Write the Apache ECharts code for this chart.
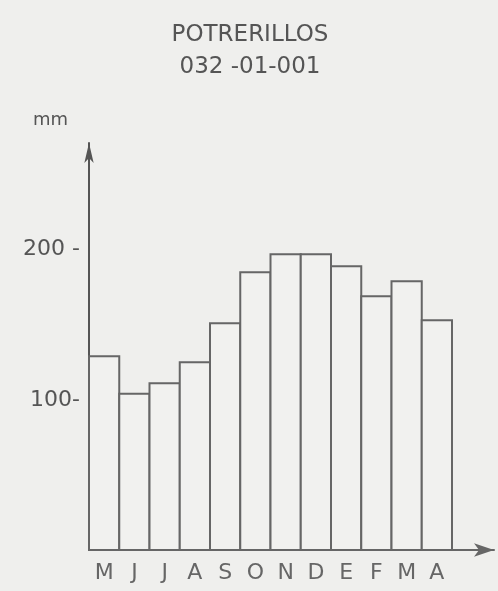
<!DOCTYPE html>
<html>
<head>
<meta charset="utf-8">
<script src="https://cdn.jsdelivr.net/npm/echarts@6/dist/echarts.min.js"></script>
<style>
  html, body { margin: 0; padding: 0; background: #efefed; }
  #chart { width: 498px; height: 591px; }
</style>
</head>
<body>
<div id="chart"></div>
<script>
// meses (mayo a abril) y precipitacion media mensual, mm
var months = ['M', 'J', 'J', 'A', 'S', 'O', 'N', 'D', 'E', 'F', 'M', 'A'];
var rain = [129, 104, 111, 125, 151, 185, 197, 197, 189, 169, 179, 153];
var yTickLabels = { 100: '100-', 200: '200 -' };

var chart = echarts.init(document.getElementById('chart'));
var ink = '#555555';
var font = 'DejaVu Sans';

// barras contiguas: cada rectangulo ocupa toda la categoria, bordes compartidos
function renderBar(params, api) {
    var i = api.value(0);
    var top = api.coord([i, api.value(1)]);
    var base = api.coord([i, 0]);
    var w = api.size([1, 0])[0];
    return {
        type: 'rect',
        shape: { x: top[0] - w / 2, y: top[1], width: w, height: base[1] - top[1] },
        style: { fill: '#f1f1ef', stroke: '#666666', lineWidth: 2 }
    };
}

var option = {
    backgroundColor: '#efefed',
    animation: false,
    title: {
        text: 'POTRERILLOS\n032 -01-001',
        left: 245,
        textAlign: 'center',
        top: 14,
        textStyle: {
            color: ink,
            fontFamily: font,
            fontWeight: 'normal',
            fontSize: 23,
            lineHeight: 32
        }
    },
    grid: [
        { left: 89, right: 46, top: 143, bottom: 41 },
        { left: 89, right: 4, top: 143, bottom: 41 }
    ],
    xAxis: [
        {
            type: 'category',
            gridIndex: 0,
            data: months,
            axisLine: { show: false },
            axisTick: { show: false },
            axisLabel: { color: '#666666', fontFamily: font, fontSize: 22, margin: 12 }
        },
        {
            type: 'value',
            gridIndex: 1,
            axisLine: {
                show: true, onZero: false,
                symbol: ['none', 'arrow'], symbolSize: [10, 20],
                lineStyle: { color: '#666666', width: 2 }
            },
            axisTick: { show: false },
            axisLabel: { show: false },
            splitLine: { show: false }
        }
    ],
    yAxis: [
        {
            type: 'value',
            gridIndex: 0,
            min: 0,
            max: 271,
            interval: 100,
            name: 'mm',
            nameGap: 14,
            nameTextStyle: { color: ink, fontFamily: font, fontSize: 18, align: 'right', padding: [0, 21, 0, 0] },
            axisLine: {
                show: true,
                symbol: ['none', 'arrow'], symbolSize: [7, 20],
                lineStyle: { color: '#555555', width: 2 }
            },
            axisTick: { show: false },
            splitLine: { show: false },
            axisLabel: {
                color: ink, fontFamily: font, fontSize: 22, margin: 9,
                showMaxLabel: false,
                formatter: function (v) { return yTickLabels[v] || ''; }
            }
        },
        { type: 'value', gridIndex: 1, show: false }
    ],
    series: [{
        type: 'custom',
        xAxisIndex: 0,
        yAxisIndex: 0,
        renderItem: renderBar,
        encode: { x: 0, y: 1 },
        data: rain.map(function (v, i) { return [i, v]; })
    }]
};

chart.setOption(option);
</script>
</body>
</html>
